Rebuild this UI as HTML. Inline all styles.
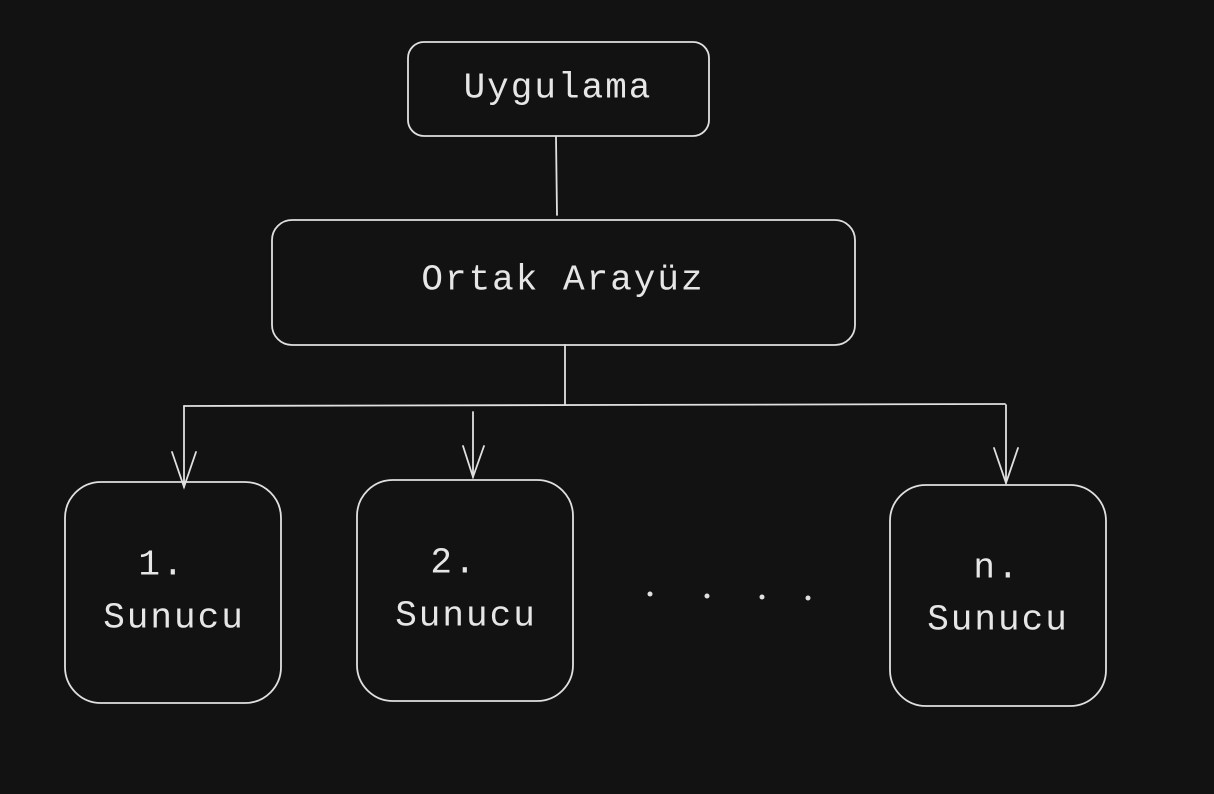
<!DOCTYPE html>
<html><head><meta charset="utf-8"><style>
html,body{margin:0;padding:0;background:#121212;}
svg{display:block}
text{font-family:"Liberation Mono",monospace;fill:#e6e6e6;font-size:36px;letter-spacing:2px;text-anchor:middle;dominant-baseline:central}
</style></head><body>
<svg width="1214" height="794" viewBox="0 0 1214 794">
<rect width="1214" height="794" fill="#121212"/>
<g fill="none" stroke="#e0e0e0" stroke-width="1.8" stroke-linecap="round">
<rect x="408" y="42" width="301" height="94" rx="16"/>
<rect x="272" y="220" width="583" height="125" rx="20"/>
<rect x="65" y="482" width="216" height="221" rx="36"/>
<rect x="357" y="480" width="216" height="221" rx="36"/>
<rect x="890" y="485" width="216" height="221" rx="36"/>
<line x1="556" y1="137" x2="557" y2="215"/>
<line x1="565" y1="345" x2="565" y2="405"/>
<line x1="184" y1="406" x2="1005" y2="404"/>
<line x1="184" y1="406" x2="184" y2="487"/>
<polyline points="172,452 184,487 196,452"/>
<line x1="473" y1="412" x2="473" y2="477"/>
<polyline points="463,446 473,477 484,446"/>
<line x1="1006" y1="405" x2="1006" y2="483"/>
<polyline points="994,448 1006,483 1018,448"/>
</g>
<g fill="#e0e0e0">
<circle cx="650" cy="594" r="2.5"/><circle cx="707" cy="596" r="2.5"/>
<circle cx="762" cy="597" r="2.5"/><circle cx="808" cy="598" r="2.5"/>
</g>
<text x="558" y="88">Uygulama</text>
<text x="563" y="280">Ortak Arayüz</text>
<text x="162" y="565">1.</text>
<text x="174" y="618">Sunucu</text>
<text x="454" y="563">2.</text>
<text x="466" y="616">Sunucu</text>
<text x="997" y="568">n.</text>
<text x="998" y="620">Sunucu</text>
</svg>
</body></html>
